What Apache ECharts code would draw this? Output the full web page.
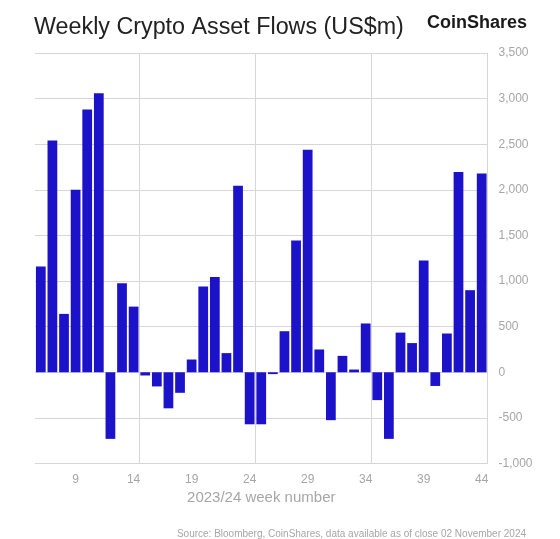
<!DOCTYPE html>
<html>
<head>
<meta charset="utf-8">
<script src="https://cdn.jsdelivr.net/npm/echarts@6/dist/echarts.min.js"></script>
<style>
html,body{margin:0;padding:0;background:#fff;}
#chart{width:560px;height:539px;}
</style>
</head>
<body>
<div id="chart"></div>
<script>
const weeks = [6,7,8,9,10,11,12,13,14,15,16,17,18,19,20,21,22,23,24,25,26,27,28,29,30,31,32,33,34,35,36,37,38,39,40,41,42,43,44];
const flows = [1160,2540,640,2000,2880,3060,-730,975,720,-35,-155,-395,-225,140,940,1045,210,2045,-570,-570,-20,450,1445,2440,250,-525,180,30,535,-305,-730,435,320,1225,-150,425,2195,900,2180];
const yTicks = {min:-1000, max:3500, step:500};
const titleText = 'Weekly Crypto Asset Flows (US$m)';
const brandText = 'CoinShares';
const xAxisName = '2023/24 week number';
const sourceText = 'Source: Bloomberg, CoinShares, data available as of close 02 November 2024';

const chart = echarts.init(document.getElementById('chart'), null, {renderer:'canvas'});
const FONT = '"Liberation Sans", Arial, Helvetica, sans-serif';
chart.setOption({
  animation:false,
  backgroundColor:'#ffffff',
  title:{
    text:titleText, left:29, top:11,
    textStyle:{fontFamily:FONT, fontSize:23.3, fontWeight:'normal', color:'#222222'}
  },
  graphic:[
    {type:'text', right:33, top:14, style:{text:brandText, fontFamily:FONT, fontSize:18, fontWeight:'bold', fill:'#1a1a1a'}},
    {type:'text', right:34, top:529, style:{text:sourceText, fontFamily:FONT, fontSize:10, fill:'#a6a6a6'}}
  ],
  grid:{left:35, right:72.5, top:53, bottom:75.5, containLabel:false},
  xAxis:{
    type:'category', data:weeks.map(String), boundaryGap:true,
    name:xAxisName, nameLocation:'middle', nameGap:27,
    nameTextStyle:{fontFamily:FONT, fontSize:15, color:'#a6a6a6'},
    axisLine:{show:false, onZero:false},
    axisTick:{show:false},
    axisLabel:{interval:(i)=> (i%5===3), margin:10, fontFamily:FONT, fontSize:12, color:'#a6a6a6'},
    splitLine:{show:true, interval:(i)=> (i%10===9), lineStyle:{color:'#d6d6d6', width:1}}
  },
  yAxis:{
    type:'value', position:'right', min:yTicks.min, max:yTicks.max, interval:yTicks.step,
    axisLine:{show:true, lineStyle:{color:'#d6d6d6', width:1}},
    axisTick:{show:false},
    axisLabel:{margin:11, fontFamily:FONT, fontSize:12, color:'#a6a6a6',
      formatter:(v)=> v.toLocaleString('en-US')},
    splitLine:{show:true, lineStyle:{color:'#d6d6d6', width:1}}
  },
  series:[{
    type:'bar', data:flows, barWidth:'84%',
    itemStyle:{color:'#1c12c9'}
  }]
});
</script>
</body>
</html>
